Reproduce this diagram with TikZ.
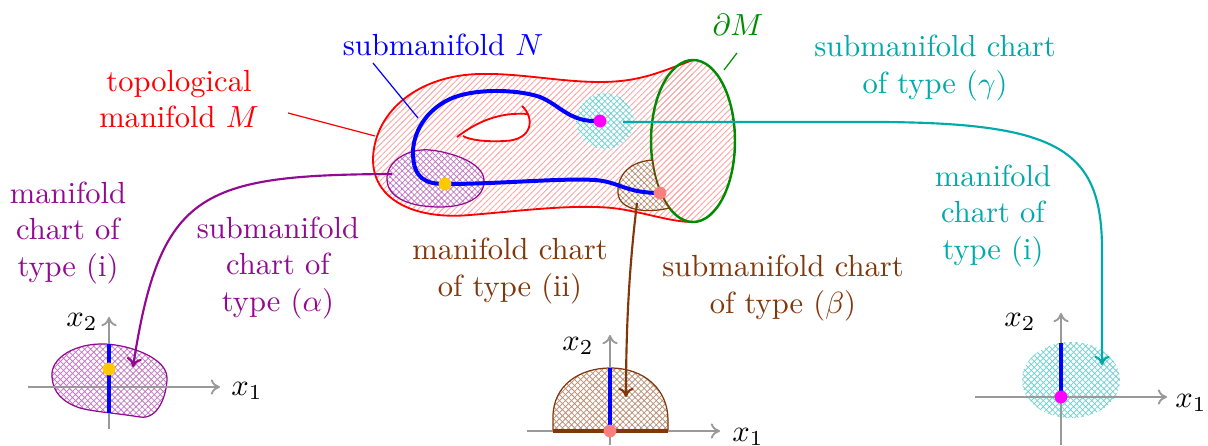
\documentclass[tikz,border=0pt]{standalone}
\usepackage{tikz}
\usetikzlibrary{arrows.meta,calc,patterns.meta}
\definecolor{bdgreen}{RGB}{0,140,0}
\definecolor{chartpurple}{RGB}{145,10,145}
\definecolor{chartbrown}{RGB}{130,55,10}
\definecolor{chartcyan}{RGB}{0,170,170}
\definecolor{dotyellow}{RGB}{255,200,0}
\definecolor{dotpink}{RGB}{250,128,128}
\definecolor{dotmagenta}{RGB}{255,0,255}

\begin{document}
\begin{tikzpicture}[
  x=0.0115cm, y=-0.0115cm,
  >={To[length=3pt,width=5pt]},
  mhatch/.style={pattern={Lines[angle=45,distance=1.4pt,line width=0.3pt]},pattern color=red!35},
  chart/.style={preaction={fill=white},pattern={Hatch[angle=45,distance=1.4pt,line width=0.25pt]},pattern color=#1!55},
  ptdot/.style={circle,fill=#1,inner sep=0pt,minimum size=4.2pt},
  leader/.style={#1,line width=0.4pt},
  link/.style={->,#1,line width=0.7pt},
  axis/.style={->,gray!80,line width=0.6pt},
  curveN/.style={blue,line width=1.3pt},
  lbl/.style={align=center,text=#1}
]
  \useasboundingbox (0,0) rectangle (1208,446);

  % manifold M with its boundary
  \coordinate (bd) at (693,141);
  \fill[mhatch] (693,60) .. controls (660,72) and (640,82) .. (600,82)
    .. controls (560,82) and (520,73) .. (480,74)
    .. controls (420,75) and (375,110) .. (373,158)
    .. controls (372,200) and (415,220) .. (470,215)
    .. controls (520,211) and (580,203) .. (620,209)
    .. controls (650,214) and (672,222) .. (693,222) -- cycle;
  \fill[mhatch] (bd) ellipse [x radius=0.483cm, y radius=0.932cm];
  \fill[white] (460,135) .. controls (478,121) and (500,112) .. (527,114)
    .. controls (533,125) and (530,140) .. (500,141)
    .. controls (485,142) and (470,140) .. (460,135);
  \draw[red,semithick] (693,60) .. controls (660,72) and (640,82) .. (600,82)
    .. controls (560,82) and (520,73) .. (480,74)
    .. controls (420,75) and (375,110) .. (373,158)
    .. controls (372,200) and (415,220) .. (470,215)
    .. controls (520,211) and (580,203) .. (620,209)
    .. controls (650,214) and (672,222) .. (693,222);
  \draw[red,semithick] (457,137) .. controls (478,121) and (500,112) .. (528,114);
  \draw[red,semithick] (522,106) .. controls (535,118) and (533,140) .. (505,141)
    .. controls (485,142) and (470,140) .. (463,136);

  % charts on M
  \path[chart=chartpurple,draw=chartpurple] (387,180) .. controls (386,160) and (410,148) .. (430,150)
    .. controls (450,152) and (483,162) .. (484,180)
    .. controls (485,198) and (465,207) .. (440,207)
    .. controls (410,207) and (388,198) .. (387,180) -- cycle;
  \path[chart=chartcyan] (605,121) ellipse [x radius=0.333cm, y radius=0.322cm];
  \draw[bdgreen,thick] (bd) ellipse [x radius=0.483cm, y radius=0.932cm];
  \path[chart=chartbrown,draw=chartbrown] ($(bd)+(193.6:0.483cm and 0.932cm)$)
    .. controls (625,162) and (617,180) .. (618,193)
    .. controls (619,210) and (645,214) .. ($(bd)+(235.8:0.483cm and 0.932cm)$)
    arc [start angle=235.8, end angle=193.6, x radius=0.483cm, y radius=0.932cm] -- cycle;

  % submanifold N
  \draw[curveN] (600,121) .. controls (570,123) and (560,105) .. (540,97)
    .. controls (520,90) and (480,88) .. (455,97)
    .. controls (425,108) and (412,135) .. (413,155)
    .. controls (414,178) and (425,184) .. (445,184)
    .. controls (500,184) and (560,178) .. (595,180)
    .. controls (620,182) and (625,193) .. (660,193);
  \node[ptdot=dotmagenta] (pG) at (600,121) {};
  \node[ptdot=dotyellow] (pA) at (445,184) {};
  \node[ptdot=dotpink] (pB) at (660,193) {};

  % labels
  \node[lbl=blue] (labN) at (443,45) {submanifold $N$};
  \node[lbl=red] (labM) at (179,99) {topological\\manifold $M$};
  \node[lbl=bdgreen] (labD) at (738,25) {$\partial M$};
  \node[lbl=chartcyan] (labG) at (935,68) {submanifold chart\\of type ($\gamma$)};
  \node[lbl=chartcyan] (labCi) at (993,216) {manifold\\chart of\\type (i)};
  \node[lbl=chartpurple] (labPi) at (68,233) {manifold\\chart of\\type (i)};
  \node[lbl=chartpurple] (labA) at (278,268) {submanifold\\chart of\\type ($\alpha$)};
  \node[lbl=chartbrown] (labii) at (510,271) {manifold chart\\of type (ii)};
  \node[lbl=chartbrown] (labB) at (783,288) {submanifold chart\\of type ($\beta$)};

  \coordinate (nFoot) at (373,63);   \coordinate (nTip) at (418,118);
  \coordinate (mFoot) at (288,113);  \coordinate (mTip) at (375,136);
  \coordinate (dFoot) at (737,53);   \coordinate (dTip) at (724,70);
  \draw[leader=blue] (nFoot) -- (nTip);
  \draw[leader=red] (mFoot) -- (mTip);
  \draw[leader=bdgreen] (dFoot) -- (dTip);

  % chart of type (i), submanifold type (alpha)
  \path[chart=chartpurple,draw=chartpurple] (52,377) .. controls (50,358) and (75,343) .. (105,344)
    .. controls (130,345) and (167,358) .. (167,378)
    .. controls (167,395) and (158,420) .. (140,417)
    .. controls (115,413) and (95,412) .. (80,408)
    .. controls (62,402) and (53,392) .. (52,377) -- cycle;
  \draw[axis] (28,387) -- (220,387);
  \draw[axis] (109,429) -- (109,317);
  \draw[curveN] (109,344) -- (109,413);
  \node[ptdot=dotyellow] (qA) at (109,369) {};
  \node (ax1) at (247,391) {$x_1$};
  \node (ax2) at (82,322) {$x_2$};

  % chart of type (ii), submanifold type (beta)
  \path[chart=chartbrown,draw=chartbrown] (553,431) -- (553,417)
    .. controls (553,385) and (580,368) .. (610,368)
    .. controls (645,368) and (668,390) .. (668,420) -- (668,431) -- cycle;
  \draw[axis] (527,431) -- (720,431);
  \draw[axis] (610,445) -- (610,335);
  \draw[chartbrown,line width=1pt] (553,431) -- (668,431);
  \draw[curveN] (610,368) -- (610,431);
  \node[ptdot=dotpink] (qB) at (610,431) {};
  \node (bx1) at (748,437) {$x_1$};
  \node (bx2) at (578,346) {$x_2$};

  % chart of type (i), submanifold type (gamma)
  \path[chart=chartcyan] (1071,380) ellipse [x radius=0.564cm, y radius=0.437cm];
  \draw[axis] (975,397) -- (1167,397);
  \draw[axis] (1061,445) -- (1061,313);
  \draw[curveN] (1061,343) -- (1061,397);
  \node[ptdot=dotmagenta] (qG) at (1061,397) {};
  \node (cx1) at (1191,403) {$x_1$};
  \node (cx2) at (1020,322) {$x_2$};

  % chart maps
  \coordinate (aFrom) at (392,174);  \coordinate (aTo) at (133,367);
  \coordinate (bFrom) at (637,203);  \coordinate (bTo) at (626,397);
  \coordinate (gFrom) at (623,122);  \coordinate (gTo) at (1102,365);
  \draw[link=chartpurple] (aFrom) .. controls (200,175) and (160,192) .. (aTo);
  \draw[link=chartbrown] (bFrom) .. controls (630,260) and (626,320) .. (bTo);
  \draw[link=chartcyan] (gFrom) -- (880,122) .. controls (1060,123) and (1102,150) .. (1102,250) -- (gTo);
\end{tikzpicture}
\end{document}
